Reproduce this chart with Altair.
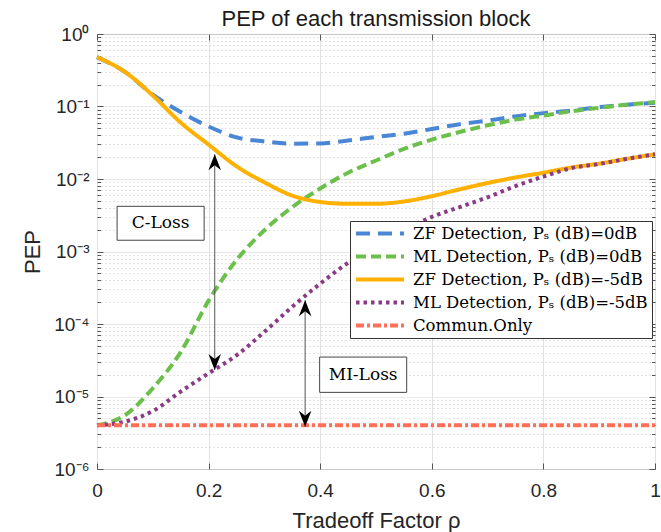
import altair as alt
import pandas as pd

# ---------------- data ----------------
rho = [0.00, 0.05, 0.10, 0.15, 0.20, 0.25, 0.30, 0.35, 0.40, 0.45, 0.50,
       0.55, 0.60, 0.65, 0.70, 0.75, 0.80, 0.85, 0.90, 0.95, 1.00]

zf_0db = [0.48, 0.30, 0.146, 0.084, 0.053, 0.0375, 0.033, 0.0307, 0.031, 0.034, 0.038,
          0.042, 0.049, 0.057, 0.064, 0.073, 0.081, 0.088, 0.098, 0.106, 0.113]

ml_0db = [4.0e-6, 5.5e-6, 1.3e-5, 4.1e-5, 2.1e-4, 7.6e-4, 1.96e-3, 4.1e-3, 7.4e-3, 0.0122, 0.0180,
          0.026, 0.035, 0.0445, 0.055, 0.066, 0.075, 0.086, 0.096, 0.106, 0.115]

zf_m5db = [0.48, 0.30, 0.142, 0.060, 0.0298, 0.0150, 9.0e-3, 5.9e-3, 4.82e-3, 4.55e-3, 4.55e-3,
           4.9e-3, 5.8e-3, 7.2e-3, 8.8e-3, 0.0105, 0.0122, 0.0144, 0.0163, 0.019, 0.0219]

ml_m5db = [4.0e-6, 4.5e-6, 6.3e-6, 1.17e-5, 2.09e-5, 3.7e-5, 7.8e-5, 1.73e-4, 3.6e-4, 7.0e-4, 1.23e-3,
           1.96e-3, 3.0e-3, 4.1e-3, 5.6e-3, 8.0e-3, 0.0108, 0.0141, 0.0161, 0.019, 0.0219]

comm_rho = [0.0, 1.0]
comm_only = [4.0e-6, 4.0e-6]

series_names = [
    "ZF Detection, P\u209b (dB)=0dB",
    "ML Detection, P\u209b (dB)=0dB",
    "ZF Detection, P\u209b (dB)=-5dB",
    "ML Detection, P\u209b (dB)=-5dB",
    "Commun.Only",
]
series_colors = ["#4a86d6", "#6cbf4a", "#ffb000", "#8a3b86", "#ff6f57"]
series_dashes = [[14, 8], [10, 5], [1, 0], [3.5, 4], [8, 3, 3, 3]]

x_ticks = [0, 0.2, 0.4, 0.6, 0.8, 1.0]
y_majors = [1e-6, 1e-5, 1e-4, 1e-3, 1e-2, 1e-1, 1.0]
y_minor_mult = [2, 3, 4, 5, 6, 7, 8, 9]
y_ticks = y_majors + [m * d for d in y_majors[:-1] for m in y_minor_mult]

# annotations (data coordinates)
box_labels = ["C-Loss", "MI-Loss"]
box_x = [0.036, 0.399]
box_x2 = [0.192, 0.555]
box_y = [4.2e-3, 3.5e-5]
box_y2 = [1.43e-3, 1.14e-5]
box_cx = [0.114, 0.477]
box_cy = [2.45e-3, 2.0e-5]

arrow_x = [0.211, 0.373]
arrow_top = [0.0219, 2.13e-4]
arrow_bot = [2.32e-5, 3.84e-6]

# ---------------- tables ----------------
rows = []
for name, vals in zip(series_names[:4], [zf_0db, ml_0db, zf_m5db, ml_m5db]):
    for r, v in zip(rho, vals):
        rows.append({"series": name, "rho": r, "pep": v})
for r, v in zip(comm_rho, comm_only):
    rows.append({"series": series_names[4], "rho": r, "pep": v})
df = pd.DataFrame(rows)
df_comm = pd.DataFrame({"rho": comm_rho, "pep": comm_only})

boxes = pd.DataFrame({"label": box_labels, "x": box_x, "x2": box_x2, "y": box_y,
                      "y2": box_y2, "cx": box_cx, "cy": box_cy})
arrows = pd.DataFrame({"x": arrow_x, "top": arrow_top, "bot": arrow_bot})

W, H = 558, 435
SANS = "Liberation Sans"
SERIF = "DejaVu Serif"

xscale = alt.Scale(domain=[0, 1], nice=False)
yscale = alt.Scale(type="log", domain=[1e-6, 1], nice=False)

major_test = "abs(log(datum.value)/LN10 - round(log(datum.value)/LN10)) < 0.001"
ylabel_expr = (
    "(" + major_test + ") ? ('10' + (round(log(datum.value)/LN10) == 0 ? '\u2070' : "
    "'\u207b' + ['', '\u00b9', '\u00b2', '\u00b3', '\u2074', '\u2075', '\u2076'][-round(log(datum.value)/LN10)])) : ''"
)

x_axis = alt.Axis(values=x_ticks, format="~g", title="Tradeoff Factor \u03c1",
                  labelFont=SANS, labelFontSize=19, labelColor="#262626",
                  titleFont=SANS, titleFontSize=22, titleFontWeight="normal",
                  titleColor="#262626", titlePadding=10, labelPadding=12,
                  ticks=False, domain=False, grid=True, gridColor="#e2e2e2",
                  labelFlush=False)
y_axis = alt.Axis(values=y_ticks, labelExpr=ylabel_expr, title="PEP",
                  labelFont=SANS, labelFontSize=19, labelColor="#262626",
                  titleFont=SANS, titleFontSize=22, titleFontWeight="normal",
                  titleColor="#262626", titlePadding=9, labelPadding=8,
                  labelOverlap=False, labelBound=False, labelFlush=False,
                  ticks=False, domain=False, grid=True,
                  gridDash={"condition": {"test": major_test, "value": [1, 0]}, "value": [1, 3]},
                  gridColor={"condition": {"test": major_test, "value": "#e2e2e2"}, "value": "#c8c8c8"})

lines = alt.Chart(df).mark_line(strokeWidth=4, interpolate="monotone").encode(
    x=alt.X("rho:Q", scale=xscale, axis=x_axis),
    y=alt.Y("pep:Q", scale=yscale, axis=y_axis),
    color=alt.Color("series:N", scale=alt.Scale(domain=series_names, range=series_colors),
                    legend=alt.Legend(title=None, orient="none", legendX=253, legendY=187,
                                      fillColor="white", strokeColor="#333333", padding=4,
                                      labelFont=SERIF, labelFontSize=16.5, labelColor="black",
                                      symbolType="stroke", symbolSize=2304, symbolStrokeWidth=4,
                                      clipHeight=17, rowPadding=6, labelOffset=7, labelLimit=400)),
    strokeDash=alt.StrokeDash("series:N", scale=alt.Scale(domain=series_names, range=series_dashes),
                              legend=alt.Legend(title=None)),
    detail="series:N",
)

box_rect = alt.Chart(boxes).mark_rect(fill="white", stroke="#444444", strokeWidth=1).encode(
    x=alt.X("x:Q", scale=xscale), x2="x2:Q",
    y=alt.Y("y:Q", scale=yscale), y2="y2:Q",
)
box_text = alt.Chart(boxes).mark_text(font=SERIF, fontSize=17, color="black").encode(
    x=alt.X("cx:Q", scale=xscale), y=alt.Y("cy:Q", scale=yscale), text="label:N",
)

shaft = alt.Chart(arrows).mark_rule(color="#555555", strokeWidth=1).encode(
    x=alt.X("x:Q", scale=xscale), y=alt.Y("top:Q", scale=yscale), y2="bot:Q",
)
head_up = alt.Chart(arrows).mark_point(
    shape="M0,0L0.63,1.6L0,1.1L-0.63,1.6Z", filled=True, color="black", opacity=1, size=400
).encode(x=alt.X("x:Q", scale=xscale), y=alt.Y("top:Q", scale=yscale))
head_down = alt.Chart(arrows).mark_point(
    shape="M0,0L0.63,-1.6L0,-1.1L-0.63,-1.6Z", filled=True, color="black", opacity=1, size=400
).encode(x=alt.X("x:Q", scale=xscale), y=alt.Y("bot:Q", scale=yscale))

main = alt.layer(lines, box_rect, box_text, shaft, head_up, head_down)

# inward-pointing ticks on all four sides of the box (MATLAB style)
tick_size_y = {"condition": {"test": major_test, "value": 6}, "value": 3.5}


def tick_layer(x_orient, y_orient):
    return alt.Chart(df_comm).mark_point(opacity=0).encode(
        x=alt.X("rho:Q", scale=xscale,
                axis=alt.Axis(orient=x_orient, offset=-H, values=x_ticks, labels=False,
                              grid=False, domain=False, ticks=True, tickSize=6,
                              tickColor="#555555", title=None)),
        y=alt.Y("pep:Q", scale=yscale,
                axis=alt.Axis(orient=y_orient, offset=-W, values=y_ticks, labels=False,
                              grid=False, domain=False, ticks=True, tickSize=tick_size_y,
                              tickColor="#555555", title=None)),
    )


ticks_a = tick_layer("top", "right")    # bottom edge & left edge, pointing inward
ticks_b = tick_layer("bottom", "left")  # top edge & right edge, pointing inward

chart = alt.layer(main, ticks_a, ticks_b).resolve_scale(
    x="independent", y="independent"
).resolve_axis(
    x="independent", y="independent"
).properties(
    width=W, height=H,
    padding={"left": 97, "top": 34, "right": 6, "bottom": 63},
    autosize=alt.AutoSizeParams(type="none"),
    title=alt.Title("PEP of each transmission block", font=SANS, fontSize=22,
                    fontWeight="normal", color="#1a1a1a", offset=8, frame="group", dy=14),
).configure_view(stroke="#7a7a7a", strokeWidth=1)

chart.save("out.html", embed_options={"renderer": "svg", "actions": False})
